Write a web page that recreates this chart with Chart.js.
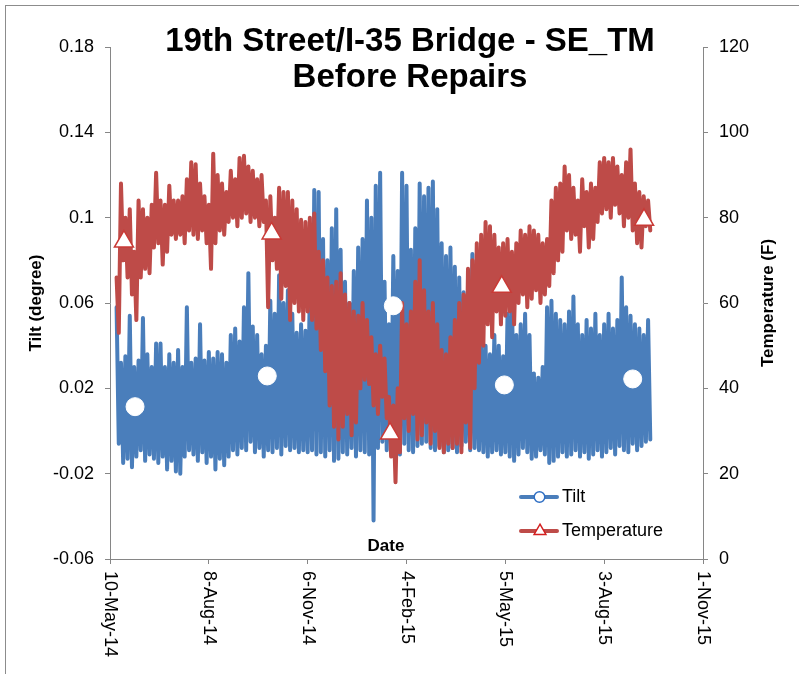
<!DOCTYPE html>
<html lang="en">
<head>
<meta charset="UTF-8">
<title>19th Street/I-35 Bridge - SE_TM</title>
<script src="https://cdn.jsdelivr.net/npm/chart.js"></script>
<style>
  body { margin: 0; background: #fff; }
  #wrap { width: 799px; height: 674px; }
</style>
</head>
<body>
<div id="wrap"><canvas id="tiltChart" width="799" height="674"></canvas></div>
<script>
// x axis is in days counted from 10-May-14
const dateTickDays = [0, 90, 180, 270, 360, 450, 540];
const dateTickLabels = ['10-May-14', '8-Aug-14', '6-Nov-14', '4-Feb-15', '5-May-15', '3-Aug-15', '1-Nov-15'];
const tiltTicks = [-0.06, -0.02, 0.02, 0.06, 0.1, 0.14, 0.18];
const tempTicks = [0, 20, 40, 60, 80, 100, 120];

// sensor readings, one high/low pair every 4 days starting on day 6
const firstSampleDay = 6;
const sampleSpacing = 4;

const tiltHigh = [
  0.058, 0.032, 0.035, 0.054, 0.030, 0.033, 0.053, 0.036, 0.030, 0.041,
  0.041, 0.030, 0.036, 0.032, 0.038, 0.030, 0.058, 0.032, 0.034, 0.050,
  0.033, 0.037, 0.034, 0.037, 0.036, 0.032, 0.045, 0.048, 0.042, 0.058,
  0.074, 0.049, 0.045, 0.036, 0.040, 0.061, 0.055, 0.073, 0.060, 0.066,
  0.055, 0.046, 0.050, 0.047, 0.070, 0.113, 0.112, 0.090, 0.080, 0.095,
  0.104, 0.085, 0.070, 0.060, 0.075, 0.086, 0.090, 0.108, 0.100, 0.115,
  0.121, 0.070, 0.050, 0.082, 0.075, 0.121, 0.115, 0.085, 0.095, 0.116,
  0.110, 0.114, 0.117, 0.104, 0.088, 0.082, 0.086, 0.077, 0.072, 0.065,
  0.052, 0.083, 0.050, 0.045, 0.040, 0.036, 0.045, 0.040, 0.035, 0.055,
  0.065, 0.045, 0.050, 0.055, 0.045, 0.027, 0.025, 0.030, 0.058, 0.061,
  0.055, 0.052, 0.050, 0.056, 0.063, 0.050, 0.045, 0.052, 0.048, 0.055,
  0.045, 0.050, 0.055, 0.048, 0.052, 0.072, 0.058, 0.054, 0.050, 0.048,
  0.045, 0.052
];
const tiltLow = [
  -0.006, -0.015, -0.013, -0.017, -0.012, -0.009, -0.014, -0.011, -0.013, -0.015,
  -0.012, -0.018, -0.014, -0.019, -0.020, -0.012, -0.009, -0.011, -0.014, -0.010,
  -0.015, -0.012, -0.018, -0.013, -0.016, -0.012, -0.009, -0.011, -0.008, -0.009,
  -0.005, -0.010, -0.008, -0.012, -0.009, -0.010, -0.008, -0.011, -0.007, -0.009,
  -0.008, -0.010, -0.009, -0.010, -0.009, -0.011, -0.010, -0.012, -0.009, -0.014,
  -0.013, -0.010, -0.011, -0.008, -0.012, -0.009, -0.010, -0.011, -0.042, -0.008,
  -0.005, -0.009, -0.010, -0.008, -0.011, -0.006, -0.009, -0.010, -0.007, -0.006,
  -0.005, -0.008, -0.009, -0.007, -0.010, -0.009, -0.008, -0.010, -0.007, -0.005,
  -0.009, -0.008, -0.009, -0.010, -0.012, -0.010, -0.009, -0.011, -0.010, -0.012,
  -0.014, -0.011, -0.008, -0.010, -0.013, -0.012, -0.009, -0.011, -0.015, -0.014,
  -0.012, -0.010, -0.012, -0.011, -0.009, -0.012, -0.010, -0.013, -0.011, -0.009,
  -0.012, -0.010, -0.008, -0.011, -0.007, -0.009, -0.010, -0.006, -0.009, -0.007,
  -0.005, -0.004
];
const tempHigh = [
  66, 88, 80, 82, 72, 84, 82, 80, 83, 90.5,
  84, 83, 87.5, 84, 84, 85, 89, 93, 92.5, 88,
  85, 83, 95, 90, 88, 86, 91, 89, 94, 94.5,
  92, 91, 89, 90, 84, 85, 80, 87, 86, 86,
  84, 82, 79.5, 79, 80, 81, 72, 70, 66, 64,
  65, 67, 62, 60, 58, 57, 60, 56, 52, 48,
  50, 47, 38, 36, 40, 60, 55, 58, 65, 70,
  63, 58, 60, 55, 49, 48, 52, 56, 60, 62,
  68, 70, 74, 76, 79, 78, 76, 73, 74, 75,
  72, 74, 77, 76, 78, 77, 76, 74, 75, 84,
  87, 88, 92, 90, 87, 84, 89, 86, 88, 87,
  93, 94, 93, 94, 92, 90, 93, 96, 88, 86,
  85, 84
];
const tempLow = [
  53, 70, 66, 62, 56, 66, 68, 67, 73, 74,
  69, 72, 76, 75, 76, 74, 77, 76, 75, 77,
  74, 68, 74, 77, 76, 79, 80, 78, 80, 81,
  79, 80, 78, 79, 59, 70, 68, 61, 64, 56,
  60, 58, 56, 58, 56, 54, 49, 44, 36, 31,
  28, 31, 34, 29, 32, 40, 42, 41, 36, 34,
  38, 33, 24, 18, 25, 33, 30, 34, 28, 29,
  32, 27, 30, 26, 25, 27, 26, 27, 25, 32,
  26, 40, 46, 50, 55, 52, 58, 55, 57, 58,
  55, 60, 62, 59, 61, 63, 60, 62, 64, 67,
  70, 72, 77, 75, 76, 72, 78, 73, 75, 79,
  81, 82, 80, 83, 81, 78, 80, 77, 74, 73,
  78, 77
];

// marked points
const tiltMarkerDays = [22.8, 143.2, 258.0, 359.1, 476.0];
const tiltMarkerValues = [0.0114, 0.0258, 0.0587, 0.0216, 0.0244];
const tempMarkerDays = [12.7, 147.2, 255.0, 356.7, 486.3];
const tempMarkerValues = [74.4, 76.3, 29.4, 63.8, 79.5];

const titleLines = ['19th Street/I-35 Bridge - SE_TM', 'Before Repairs'];
const seriesNames = ['Tilt', 'Temperature'];

const fontFamily = '"Liberation Sans", Arial, sans-serif';
const tiltColor = '#4a7ebb';
const tempColor = '#be4b48';
const axisGray = '#868686';

function zigzag(highs, lows) {
  const pts = [];
  highs.forEach((h, i) => {
    const d = firstSampleDay + i * sampleSpacing;
    pts.push({ x: d, y: h }, { x: d + sampleSpacing / 2, y: lows[i] });
  });
  return pts;
}

function markers(days, values) {
  return days.map((d, i) => ({ x: d, y: values[i] }));
}

const sheetText = {
  id: 'sheetText',
  beforeDraw(chart) {
    const c = chart.ctx;
    c.save();
    c.fillStyle = '#fff';
    c.fillRect(0, 0, chart.width, chart.height);
    c.strokeStyle = '#8c8c8c';
    c.lineWidth = 1;
    c.strokeRect(5.5, 5.5, chart.width, chart.height);
    c.restore();
  },
  afterDraw(chart) {
    const c = chart.ctx;
    const xs = chart.scales.x;
    c.save();
    c.fillStyle = '#000';
    c.textAlign = 'center';
    c.textBaseline = 'middle';

    c.font = 'bold 33px ' + fontFamily;
    c.fillText(titleLines[0], 410, 42);
    c.fillText(titleLines[1], 410, 78);

    c.font = 'bold 17px ' + fontFamily;
    c.fillText('Date', 386, 546);
    c.save();
    c.translate(36, 303);
    c.rotate(-Math.PI / 2);
    c.fillText('Tilt (degree)', 0, 0);
    c.restore();
    c.save();
    c.translate(768, 303);
    c.rotate(-Math.PI / 2);
    c.fillText('Temperature (F)', 0, 0);
    c.restore();

    // date labels run downward
    c.font = '18px ' + fontFamily;
    c.textAlign = 'left';
    dateTickDays.forEach((d, i) => {
      c.save();
      c.translate(xs.getPixelForValue(d), 571);
      c.rotate(Math.PI / 2);
      c.fillText(dateTickLabels[i], 0, 0);
      c.restore();
    });

    // legend
    const rows = [
      { name: seriesNames[0], color: tiltColor, edge: '#2f6fc4', y: 497, shape: 'circle' },
      { name: seriesNames[1], color: tempColor, edge: '#d42020', y: 531, shape: 'triangle' }
    ];
    rows.forEach(r => {
      c.strokeStyle = r.color;
      c.lineWidth = 4;
      c.lineCap = 'round';
      c.beginPath();
      c.moveTo(521, r.y);
      c.lineTo(557, r.y);
      c.stroke();
      c.fillStyle = '#fff';
      c.strokeStyle = r.edge;
      c.lineWidth = 1.5;
      c.beginPath();
      if (r.shape === 'circle') {
        c.arc(539.5, r.y, 5.3, 0, Math.PI * 2);
      } else {
        const rad = 6.8;
        c.moveTo(540, r.y - rad);
        c.lineTo(540 + rad * 0.866, r.y + rad / 2);
        c.lineTo(540 - rad * 0.866, r.y + rad / 2);
        c.closePath();
      }
      c.fill();
      c.stroke();
      c.fillStyle = '#000';
      c.textBaseline = 'middle';
      c.fillText(r.name, 562, r.y);
    });
    c.restore();
  }
};

const tickFont = { family: fontFamily, size: 18 };

new Chart(document.getElementById('tiltChart'), {
  type: 'line',
  data: {
    datasets: [
      {
        label: 'Temperature markers',
        data: markers(tempMarkerDays, tempMarkerValues),
        yAxisID: 'yTemp',
        showLine: false,
        pointStyle: 'triangle',
        pointRadius: 11,
        pointBackgroundColor: '#fff',
        pointBorderColor: '#c93a36',
        pointBorderWidth: 1.5,
        order: 0
      },
      {
        label: 'Tilt markers',
        data: markers(tiltMarkerDays, tiltMarkerValues),
        yAxisID: 'yTilt',
        showLine: false,
        pointStyle: 'circle',
        pointRadius: 9,
        pointBackgroundColor: '#fff',
        pointBorderColor: '#fff',
        pointBorderWidth: 1,
        order: 1
      },
      {
        label: seriesNames[1],
        data: zigzag(tempHigh, tempLow),
        yAxisID: 'yTemp',
        borderColor: tempColor,
        borderWidth: 4,
        borderJoinStyle: 'round',
        borderCapStyle: 'round',
        pointRadius: 0,
        tension: 0,
        fill: false,
        order: 2
      },
      {
        label: seriesNames[0],
        data: zigzag(tiltHigh, tiltLow),
        yAxisID: 'yTilt',
        borderColor: tiltColor,
        borderWidth: 4,
        borderJoinStyle: 'round',
        borderCapStyle: 'round',
        pointRadius: 0,
        tension: 0,
        fill: false,
        order: 3
      }
    ]
  },
  options: {
    responsive: false,
    animation: false,
    events: [],
    layout: { padding: { top: 47, left: 0, right: 0, bottom: 0 } },
    plugins: { legend: { display: false }, tooltip: { enabled: false } },
    scales: {
      x: {
        type: 'linear',
        min: 0,
        max: 540,
        afterBuildTicks: s => { s.ticks = dateTickDays.map(v => ({ value: v })); },
        ticks: { display: false },
        grid: { drawOnChartArea: false, drawTicks: true, tickLength: 5, color: axisGray },
        border: { color: axisGray },
        afterFit: s => { s.height = 115; }
      },
      yTilt: {
        position: 'left',
        min: -0.06,
        max: 0.18,
        afterBuildTicks: s => { s.ticks = tiltTicks.map(v => ({ value: v })); },
        ticks: { font: tickFont, color: '#000', padding: 11, callback: v => String(v) },
        grid: { drawOnChartArea: false, drawTicks: true, tickLength: 5, color: axisGray },
        border: { color: axisGray },
        afterFit: s => { s.width = 110; }
      },
      yTemp: {
        position: 'right',
        min: 0,
        max: 120,
        afterBuildTicks: s => { s.ticks = tempTicks.map(v => ({ value: v })); },
        ticks: { font: tickFont, color: '#000', padding: 11, callback: v => String(v) },
        grid: { drawOnChartArea: false, drawTicks: true, tickLength: 5, color: axisGray },
        border: { color: axisGray },
        afterFit: s => { s.width = 96; }
      }
    }
  },
  plugins: [sheetText]
});
</script>
</body>
</html>
